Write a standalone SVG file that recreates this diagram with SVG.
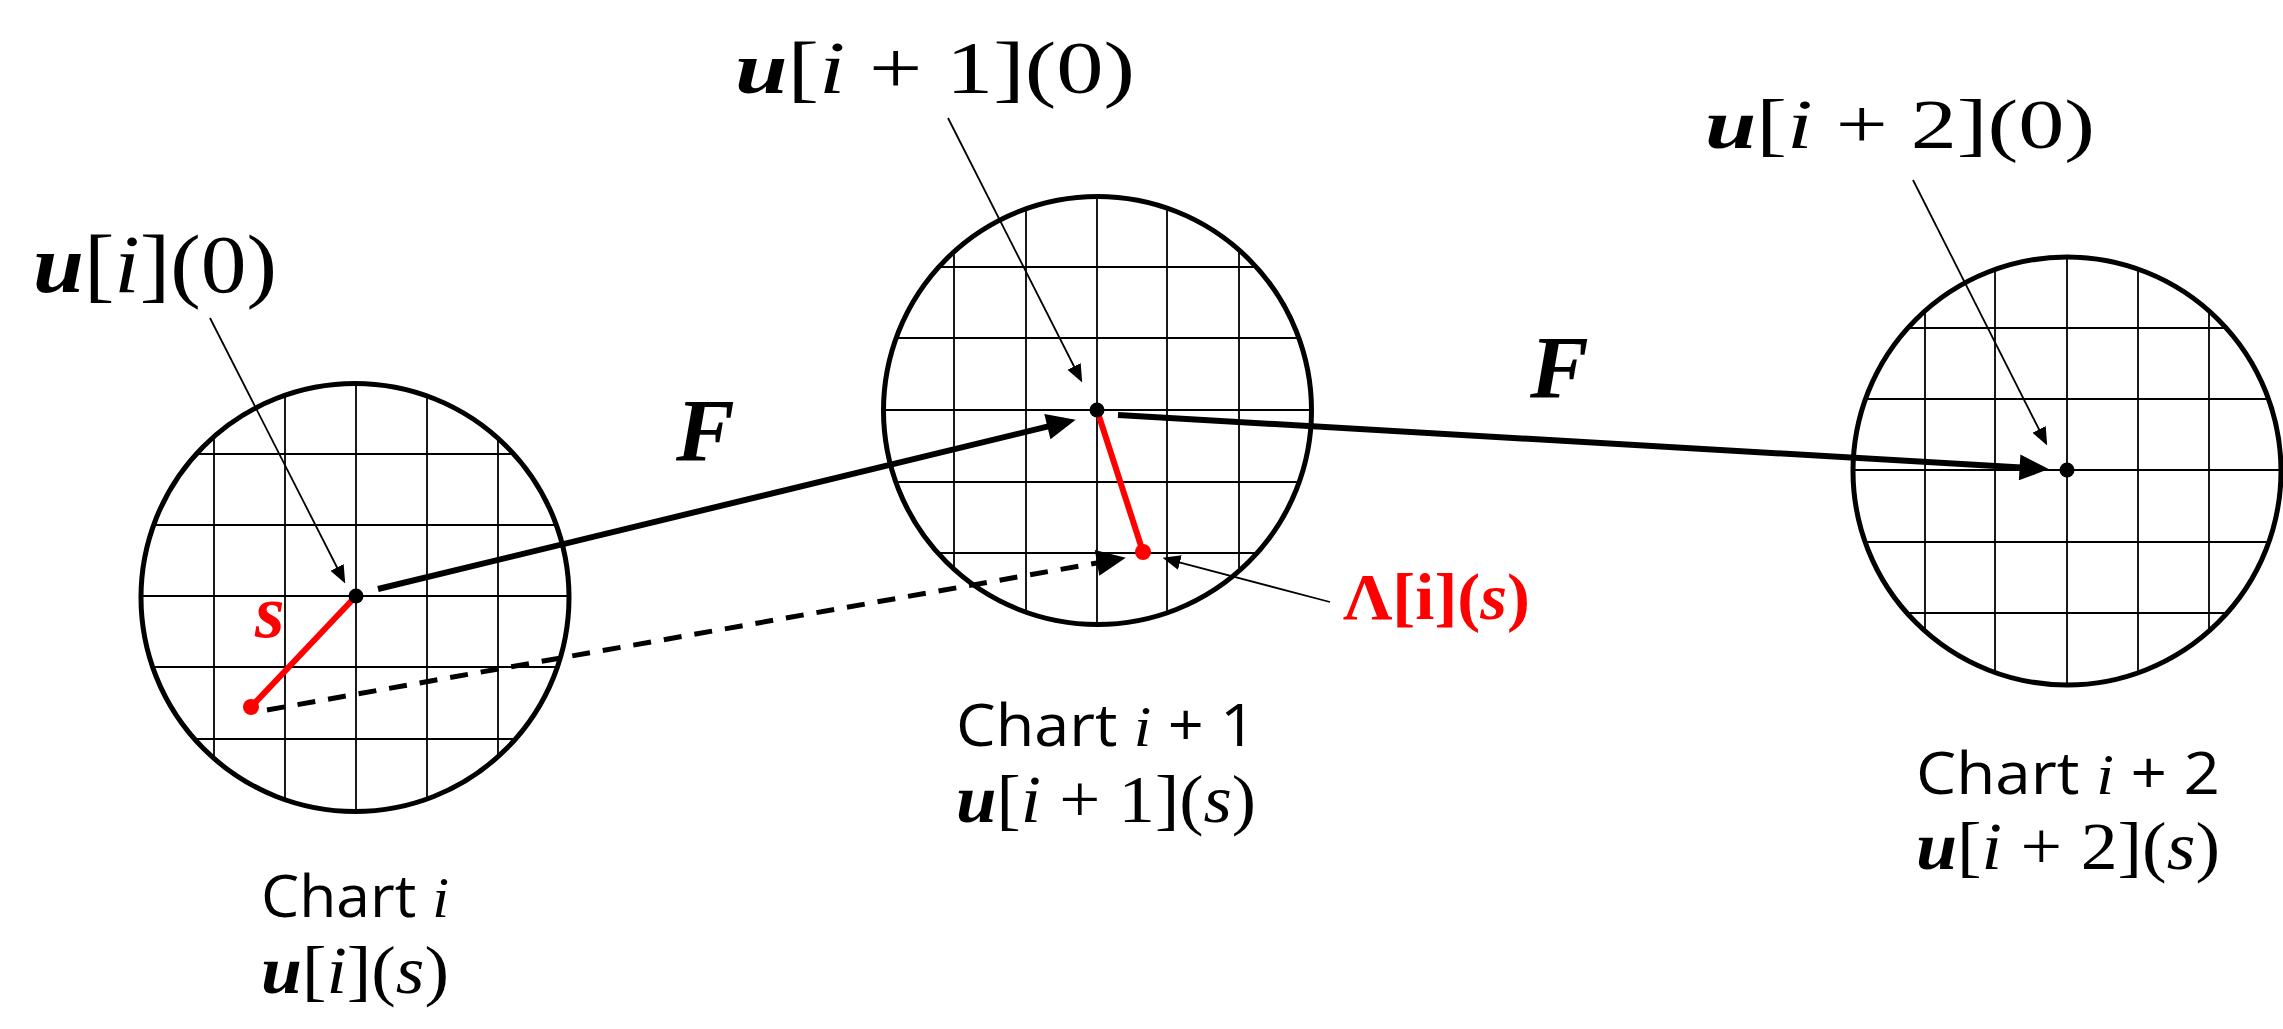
<svg xmlns="http://www.w3.org/2000/svg" width="2283" height="1029" viewBox="0 0 2283 1029">
<style>
.rim{fill:none;stroke:#000;stroke-width:5}
.grid line{stroke:#000;stroke-width:1.8}
.math{font-family:"Liberation Serif","Times New Roman",serif;fill:#000}
.bi{font-weight:bold;font-style:italic}
.it{font-style:italic}
.sans{font-family:"Open Sans","Liberation Sans",sans-serif;fill:#000}
.red{fill:#FF0000}
.thick{stroke:#000;stroke-width:6;fill:none}
.dash{stroke:#000;stroke-width:5;fill:none;stroke-dasharray:18 13}
.thin{stroke:#000;stroke-width:1.8;fill:none}
.redline{stroke:#FF0000;stroke-width:6;fill:none}
</style>
<defs>
<clipPath id="c1"><circle cx="355" cy="597.5" r="214"/></clipPath>
<clipPath id="c2"><circle cx="1097.5" cy="410.5" r="214"/></clipPath>
<clipPath id="c3"><circle cx="2067" cy="471" r="214"/></clipPath>
<marker id="bigHead" markerUnits="userSpaceOnUse" markerWidth="30" markerHeight="26" viewBox="0 0 28 25" refX="10" refY="12.5" orient="auto">
<path d="M0,0 L28,12.5 L0,25 z" fill="#000"/>
</marker>
<marker id="smallHead" markerUnits="userSpaceOnUse" markerWidth="18" markerHeight="15" viewBox="0 0 17 14" refX="8" refY="7" orient="auto">
<path d="M0,0 L17,7 L0,14 z" fill="#000"/>
</marker>
</defs>
<rect width="2283" height="1029" fill="#fff"/>

<g id="chart-i">
<g class="grid" clip-path="url(#c1)">
<line x1="214" y1="380" x2="214" y2="815"/><line x1="285" y1="380" x2="285" y2="815"/><line x1="356" y1="380" x2="356" y2="815"/><line x1="427" y1="380" x2="427" y2="815"/><line x1="498" y1="380" x2="498" y2="815"/>
<line x1="138" y1="454" x2="572" y2="454"/><line x1="138" y1="525" x2="572" y2="525"/><line x1="138" y1="596" x2="572" y2="596"/><line x1="138" y1="667" x2="572" y2="667"/><line x1="138" y1="739" x2="572" y2="739"/>
</g>
<circle class="rim" cx="355" cy="597.5" r="214"/>
<text class="sans" x="261" y="917" font-size="58" textLength="188" lengthAdjust="spacingAndGlyphs">Chart <tspan class="math it">i</tspan></text>
<text class="math" x="261" y="993" font-size="68" textLength="188" lengthAdjust="spacingAndGlyphs"><tspan class="bi">u</tspan>[<tspan class="it">i</tspan>](<tspan class="it">s</tspan>)</text>
</g>

<g id="chart-i1">
<g class="grid" clip-path="url(#c2)">
<line x1="954" y1="193" x2="954" y2="628"/><line x1="1026" y1="193" x2="1026" y2="628"/><line x1="1097" y1="193" x2="1097" y2="628"/><line x1="1167" y1="193" x2="1167" y2="628"/><line x1="1239" y1="193" x2="1239" y2="628"/>
<line x1="880" y1="267" x2="1315" y2="267"/><line x1="880" y1="338" x2="1315" y2="338"/><line x1="880" y1="410" x2="1315" y2="410"/><line x1="880" y1="482" x2="1315" y2="482"/><line x1="880" y1="553" x2="1315" y2="553"/>
</g>
<circle class="rim" cx="1097.5" cy="410.5" r="214"/>
<text class="sans" x="956" y="746" font-size="58" textLength="300" lengthAdjust="spacingAndGlyphs">Chart <tspan class="math it">i</tspan> + 1</text>
<text class="math" x="956" y="822" font-size="68" textLength="300" lengthAdjust="spacingAndGlyphs"><tspan class="bi">u</tspan>[<tspan class="it">i</tspan> + 1](<tspan class="it">s</tspan>)</text>
</g>

<g id="chart-i2">
<g class="grid" clip-path="url(#c3)">
<line x1="1925" y1="254" x2="1925" y2="688" stroke-width="3"/><line x1="1995" y1="254" x2="1995" y2="688"/><line x1="2067" y1="254" x2="2067" y2="688"/><line x1="2138" y1="254" x2="2138" y2="688"/><line x1="2209" y1="254" x2="2209" y2="688"/>
<line x1="1850" y1="328" x2="2284" y2="328"/><line x1="1850" y1="399" x2="2284" y2="399"/><line x1="1850" y1="470" x2="2284" y2="470"/><line x1="1850" y1="542" x2="2284" y2="542"/><line x1="1850" y1="613" x2="2284" y2="613"/>
</g>
<circle class="rim" cx="2067" cy="471" r="214"/>
<text class="sans" x="1916" y="794" font-size="58" textLength="304" lengthAdjust="spacingAndGlyphs">Chart <tspan class="math it">i</tspan> + 2</text>
<text class="math" x="1916" y="869" font-size="68" textLength="304" lengthAdjust="spacingAndGlyphs"><tspan class="bi">u</tspan>[<tspan class="it">i</tspan> + 2](<tspan class="it">s</tspan>)</text>
</g>

<g id="connectors">
<line class="redline" x1="356" y1="596" x2="251" y2="707"/>
<line class="redline" x1="1097" y1="410" x2="1143" y2="552"/>
<line class="thick" x1="378" y1="589" x2="1057.5" y2="424.2" marker-end="url(#bigHead)"/>
<line class="thick" x1="1118" y1="415" x2="2030" y2="468" marker-end="url(#bigHead)"/>
<line class="dash" x1="267" y1="710" x2="1107.3" y2="561.1" marker-end="url(#bigHead)"/>
<line class="thin" x1="210" y1="318" x2="340.9" y2="575" marker-end="url(#smallHead)"/>
<line class="thin" x1="948" y1="118" x2="1077.9" y2="374" marker-end="url(#smallHead)"/>
<line class="thin" x1="1913" y1="180" x2="2042.9" y2="437" marker-end="url(#smallHead)"/>
<line class="thin" x1="1330" y1="602" x2="1171.7" y2="560.3" marker-end="url(#smallHead)"/>
</g>

<g id="points">
<circle cx="356" cy="596" r="7.5" fill="#000"/>
<circle cx="1097" cy="410" r="7.5" fill="#000"/>
<circle cx="2067" cy="470" r="7.5" fill="#000"/>
<circle cx="251" cy="707" r="8" fill="#FF0000"/>
<circle cx="1143" cy="552" r="8" fill="#FF0000"/>
</g>

<g id="labels">
<text class="math" x="33" y="292" font-size="82" textLength="244" lengthAdjust="spacingAndGlyphs"><tspan class="bi">u</tspan>[<tspan class="it">i</tspan>](0)</text>
<text class="math" x="735" y="93" font-size="74" textLength="400" lengthAdjust="spacingAndGlyphs"><tspan class="bi">u</tspan>[<tspan class="it">i</tspan> + 1](0)</text>
<text class="math" x="1705" y="148" font-size="70" textLength="390" lengthAdjust="spacingAndGlyphs"><tspan class="bi">u</tspan>[<tspan class="it">i</tspan> + 2](0)</text>
<text class="math bi" x="676" y="460" font-size="88">F</text>
<text class="math bi" x="1530" y="397" font-size="88">F</text>
<text class="math bi red" x="255" y="637" font-size="76">s</text>
<text class="math red" x="1343" y="619" font-size="66" font-weight="bold" textLength="187" lengthAdjust="spacingAndGlyphs">Λ[i](<tspan class="it">s</tspan>)</text>
</g>
</svg>
